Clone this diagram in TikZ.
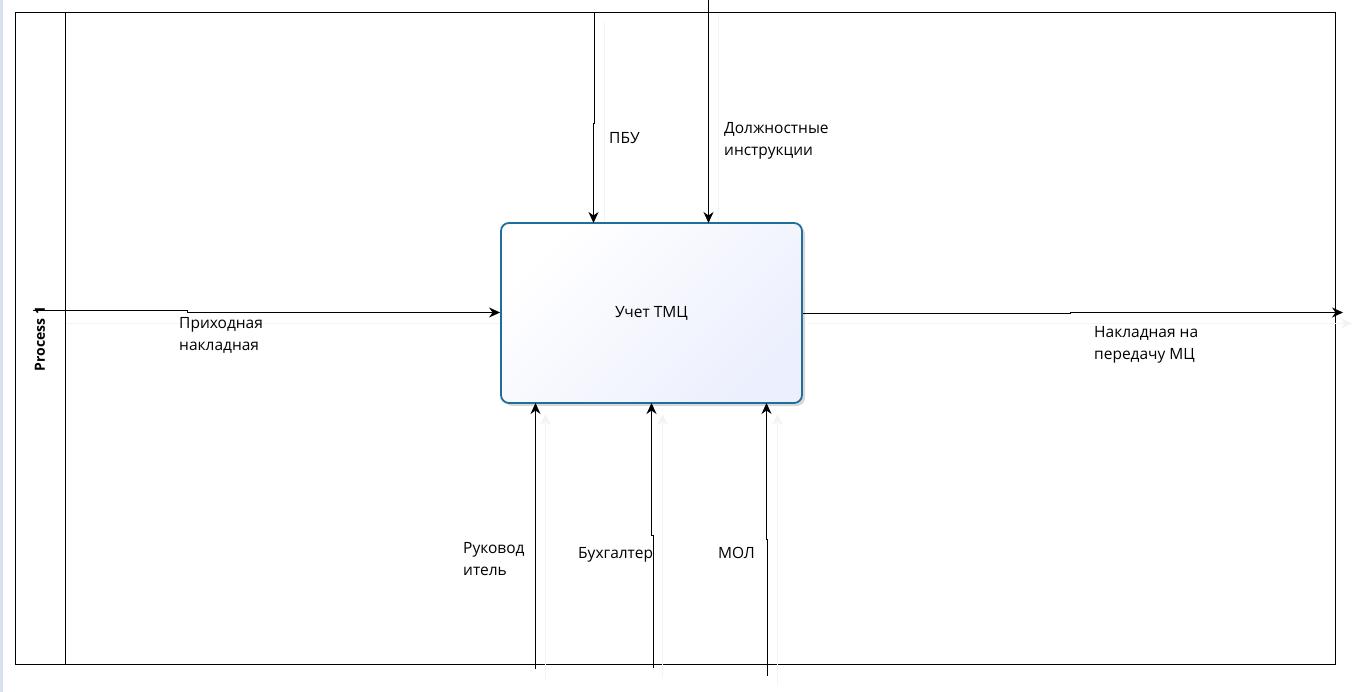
\documentclass[tikz,border=0pt]{standalone}
\usepackage{fontspec}
\setmainfont{Open Sans}
\usetikzlibrary{arrows.meta,shadows}
\definecolor{boxblue}{RGB}{31,110,156}
\definecolor{lav}{RGB}{236,239,253}
\definecolor{ghost}{RGB}{243,243,243}
\definecolor{strip}{RGB}{214,226,242}
\tikzset{
  flow/.style={line width=1pt,-{Stealth[length=11pt,width=10pt,inset=3.5pt]}},
  ghostline/.style={draw=ghost,line width=1pt},
  ghostarrow/.style={draw=ghost,line width=1pt,-{Stealth[length=11pt,width=10pt,inset=3.5pt,fill=ghost]}},
  lbl/.style={font=\fontsize{15.5pt}{22pt}\selectfont,align=left,anchor=north west,inner sep=0pt},
  frame/.style={draw=black,line width=1pt},
  funcbox/.style={draw=boxblue,line width=1.8pt,rounded corners=8pt,
    left color=white,right color=lav,shading angle=45,
    drop shadow={opacity=0.15,shadow xshift=3pt,shadow yshift=-3pt,fill=black},
    minimum width=301pt,minimum height=180pt,inner sep=0pt,
    font=\fontsize{15.5pt}{18pt}\selectfont}
}
\begin{document}
\begin{tikzpicture}[x=1pt,y=-1pt]
\useasboundingbox (0,0) rectangle (1372,692);
\fill[white] (0,0) rectangle (1372,692);
\fill[strip] (0,0) rectangle (3,692);
% frame
\draw[frame] (15.5,12.5) rectangle (1335.5,664.5);
\draw[frame] (65.5,12.5) -- (65.5,664.5);
\node[rotate=90,font=\bfseries\fontsize{14pt}{16pt}\selectfont,inner sep=0pt] (proc) at (40,339) {Process 1};
% ghost lines
\draw[ghostline] (66,323.5) -- (500,323.5);
\draw[ghostarrow] (808,323.5) -- (1352,323.5);
\draw[ghostline] (604.5,22) -- (604.5,222);
\draw[ghostline] (718.5,14) -- (718.5,222);
\draw[ghostarrow] (545.5,680) -- (545.5,414);
\draw[ghostarrow] (662.5,678) -- (662.5,414);
\draw[ghostarrow] (777.5,685) -- (777.5,414);
% main box
\node[funcbox] (main) at (651.5,313) {Учет ТМЦ};
% coordinates
\coordinate (inS) at (33,310.5);
\coordinate (outE) at (1343,312.5);
\coordinate (pbuS) at (594.5,12);
\coordinate (dolS) at (708.5,0);
\coordinate (rukS) at (535.5,669);
\coordinate (buhS) at (653.5,668);
\coordinate (molS) at (767.5,676);
% input
\draw[flow] (inS) -- (187.5,310.5) -- (187.5,312.5) -- (main.west |- 0,312.5);
% output
\draw[flow] (main.east |- 0,313.5) -- (1070.5,313.5) -- (1070.5,312.5) -- (outE);
% controls
\draw[flow] (pbuS) -- (594.5,123.5) -- (593.5,123.5) -- (593.5,223);
\draw[flow] (dolS) -- (708.5,223);
% mechanisms
\draw[flow] (rukS) -- (535.5,403);
\draw[flow] (buhS) -- (653.5,535.5) -- (651.5,535.5) -- (651.5,403);
\draw[flow] (molS) -- (767.5,539.5) -- (766.5,539.5) -- (766.5,403);
% labels
\node[lbl] (l1) at (179,317) {Приходная\\накладная};
\node[lbl] (l2) at (1094,326) {Накладная на\\передачу МЦ};
\node[lbl] (l3) at (609,132) {ПБУ};
\node[lbl] (l4) at (724,122) {Должностные\\инструкции};
\node[lbl] (l5) at (463,542) {Руковод\\итель};
\node[lbl] (l6) at (578,547) {Бухгалтер};
\node[lbl] (l7) at (718,547) {МОЛ};
\end{tikzpicture}
\end{document}
